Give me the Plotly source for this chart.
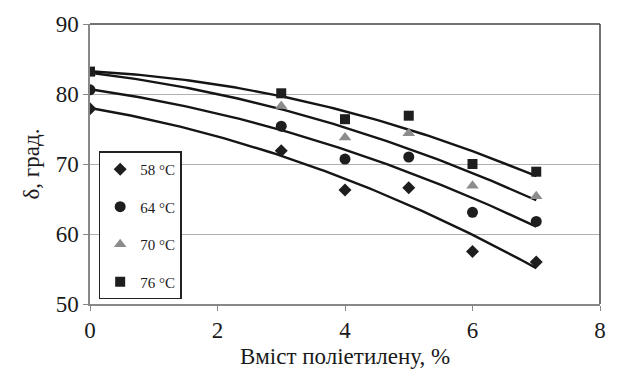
import numpy as np
import plotly.graph_objects as go

x_vals = [0, 3, 4, 5, 6, 7]
t58 = [77.9, 71.9, 66.3, 66.6, 57.5, 56.0]
t64 = [80.6, 75.4, 70.7, 71.0, 63.1, 61.8]
t70 = [83.0, 78.3, 73.8, 74.4, 66.9, 65.4]
t76 = [83.2, 80.1, 76.4, 76.9, 70.0, 68.9]
names = ["58 °C", "64 °C", "70 °C", "76 °C"]
series = [t58, t64, t70, t76]
symbols = ["diamond", "circle", "triangle-up", "square"]
colors = ["#1e1e1e", "#1e1e1e", "#8c8c8c", "#1e1e1e"]
sizes = [10, 11, 11, 10]

fig = go.Figure()
xf = np.linspace(0, 7, 100)
for ys in series:
    c = np.polyfit(x_vals, ys, 2)
    fig.add_trace(go.Scatter(x=xf, y=np.polyval(c, xf), mode="lines",
                             line=dict(color="#151515", width=2.4), showlegend=False,
                             hoverinfo="skip"))
for i, (n, ys) in enumerate(zip(names, series)):
    fig.add_trace(go.Scatter(x=x_vals, y=ys, mode="markers", name=n,
                             legendgroup=n,
                             marker=dict(symbol=symbols[i], color=colors[i], size=sizes[i])))

font = "Liberation Serif, DejaVu Serif, serif"
fig.update_layout(
    width=618, height=377,
    margin=dict(l=90, r=12, t=13, b=70),
    paper_bgcolor="white", plot_bgcolor="white",
    font=dict(family=font, color="#1a1a1a"),
    showlegend=True,
    legend=dict(x=0.017, y=0.545, xanchor="left", yanchor="top",
                bordercolor="#222", borderwidth=1.5, bgcolor="white",
                font=dict(size=15, family=font), traceorder="grouped",
                tracegroupgap=15, itemwidth=30),
    xaxis=dict(range=[0, 8], dtick=2, showgrid=False, zeroline=False,
               showline=True, linecolor="#888", linewidth=1.5, mirror=False,
               ticks="outside", ticklen=5, tickcolor="#888",
               tickfont=dict(size=23, family=font),
               title=dict(text="Вміст поліетилену, %", font=dict(size=23, family=font), standoff=6)),
    yaxis=dict(range=[50, 90], dtick=10, showgrid=True, gridcolor="#b0b0b0", gridwidth=1,
               zeroline=False, showline=True, linecolor="#888", linewidth=1.5,
               ticks="outside", ticklen=5, tickcolor="#888",
               tickfont=dict(size=23, family=font),
               title=dict(text="δ, град.", font=dict(size=23, family=font), standoff=10)),
)
# top and right border of plot area
fig.add_shape(type="line", xref="paper", yref="paper", x0=0, x1=1, y0=1, y1=1,
              line=dict(color="#444", width=1.5))
fig.add_shape(type="line", xref="paper", yref="paper", x0=1, x1=1, y0=0, y1=1,
              line=dict(color="#444", width=1.5))
fig.write_html("out.html")
